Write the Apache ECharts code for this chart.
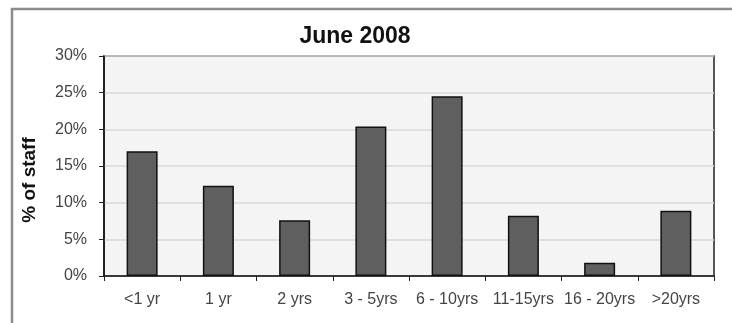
<!DOCTYPE html>
<html>
<head>
<meta charset="utf-8">
<script src="https://cdn.jsdelivr.net/npm/echarts@6/dist/echarts.min.js"></script>
<style>
  html, body { margin: 0; padding: 0; background: #ffffff; }
  #chart { width: 732px; height: 323px; }
</style>
</head>
<body>
<div id="chart"></div>
<script>
// Staff length-of-service distribution, June 2008
const categories = ['<1 yr', '1 yr', '2 yrs', '3 - 5yrs', '6 - 10yrs', '11-15yrs', '16 - 20yrs', '>20yrs'];
const staffShare = [17.0, 12.3, 7.6, 20.4, 24.5, 8.2, 1.8, 8.9];
const titleText = 'June 2008';
const yAxisTitle = '% of staff';

const FONT = 'Liberation Sans, Arial, sans-serif';
const chart = echarts.init(document.getElementById('chart'), null, { renderer: 'canvas' });

chart.setOption({
  animation: false,
  backgroundColor: '#ffffff',
  graphic: [
    {
      // outer frame, open on the right and bottom
      type: 'rect',
      shape: { x: 12, y: 9, width: 800, height: 400 },
      style: { fill: 'none', stroke: '#8c8c8c', lineWidth: 2.5 },
      silent: true
    },
    {
      type: 'text',
      x: 355,
      y: 37,
      style: {
        text: titleText,
        fontFamily: FONT,
        fontSize: 23,
        fontWeight: 'bold',
        fill: '#111',
        align: 'center',
        verticalAlign: 'middle'
      }
    },
    {
      type: 'text',
      x: 30,
      y: 180,
      rotation: Math.PI / 2,
      style: {
        text: yAxisTitle,
        fontFamily: FONT,
        fontSize: 19,
        fontWeight: 'bold',
        fill: '#111',
        align: 'center',
        verticalAlign: 'middle'
      }
    }
  ],
  grid: {
    left: 104,
    right: 18,
    top: 56,
    bottom: 47,
    show: true,
    backgroundColor: '#f4f4f4',
    borderColor: '#222',
    borderWidth: 1.5
  },
  xAxis: {
    type: 'category',
    data: categories,
    axisLine: { lineStyle: { color: '#111', width: 1.5 } },
    axisTick: { show: true, length: 5, lineStyle: { color: '#222' } },
    axisLabel: {
      interval: 0,
      margin: 16,
      fontFamily: FONT,
      fontSize: 16,
      color: '#444'
    }
  },
  yAxis: {
    type: 'value',
    min: 0,
    max: 30,
    interval: 5,
    axisLine: { show: true, lineStyle: { color: '#111', width: 1.5 } },
    axisTick: { show: true, length: 5, lineStyle: { color: '#222' } },
    axisLabel: {
      formatter: '{value}%',
      margin: 17,
      fontFamily: FONT,
      fontSize: 16,
      color: '#444'
    },
    splitLine: { lineStyle: { color: '#dadada', width: 1.5 } }
  },
  series: [{
    type: 'bar',
    data: staffShare,
    barWidth: 31,
    itemStyle: { color: '#5f5f5f', borderColor: '#111', borderWidth: 1.5 }
  }]
});
</script>
</body>
</html>
